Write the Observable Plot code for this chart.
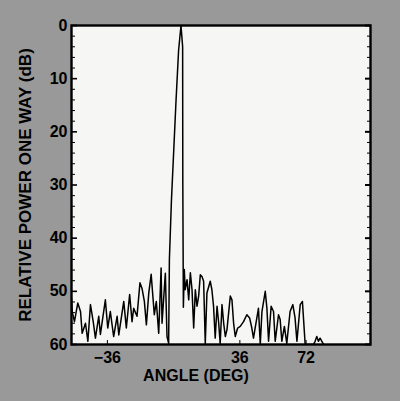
<!DOCTYPE html>
<html><head><meta charset="utf-8">
<script src="https://cdn.jsdelivr.net/npm/d3@7"></script>
<script src="https://cdn.jsdelivr.net/npm/@observablehq/plot@0.6"></script>
<style>
html,body{margin:0;padding:0;background:#999;}
#chart{width:400px;height:401px;}
</style></head><body><div id="chart"></div>
<script>
const angleDeg = [
  -55.5, -55.1, -53.9, -52.1, -50.6, -49.7, -47.9, -46.6, -45.2, -43.7,
  -42.5, -40.7, -39.8, -37.1, -35.8, -34.4, -32.6, -30.7, -29.8, -27.1,
  -25.7, -23.9, -22.6, -21.7, -19.9, -18.3, -17.2, -15.9, -14.8, -13.5,
  -12.2, -10.5, -9.4, -8.1, -6.8, -6.3, -4.5, -3.6, -2.7,
  -2.3, -1.2, 1.3, 2.7, 4.0, 4.9, 5.0, 5.3,
  5.8, 6.3, 7.3, 8.2, 9.1, 10.0, 10.9, 11.8, 12.7, 13.6,
  14.5, 15.4, 16.3, 17.2, 18.1, 19.9, 20.8, 21.7, 22.6, 23.6,
  24.5, 25.3, 26.3, 27.2, 28.1, 29.0, 30.8, 31.7, 32.6, 33.5,
  34.8, 36.2, 38.0, 39.8, 41.3, 42.5, 43.4, 44.3, 46.1, 47.1,
  48.0, 49.8, 50.7, 51.6, 53.0, 54.3, 55.2, 57.0, 57.9, 58.8,
  60.2, 61.5, 63.3, 64.8, 66.0, 67.0, 68.8, 70.0, 71.5, 76.0,
  76.9, 77.8, 78.7, 79.6, 81.5
];
const powerDb = [
  51.3, 53.8, 55.7, 52.2, 53.8, 57.9, 56.0, 59.4, 52.5, 55.7,
  58.8, 54.7, 58.1, 51.6, 56.9, 53.8, 58.5, 54.7, 58.2, 51.9,
  56.9, 50.6, 55.7, 53.2, 54.7, 48.4, 49.4, 51.9, 56.3, 50.3,
  46.8, 54.4, 51.9, 57.9, 45.6, 56.0, 46.6, 58.5, 59.8,
  44.0, 33.0, 14.2, 4.7, 0.0, 4.0, 30.0, 53.0,
  45.9, 49.7, 47.8, 51.6, 46.5, 49.7, 56.9, 49.7, 52.8, 50.9,
  46.9, 47.2, 48.1, 59.8, 50.3, 48.1, 49.7, 52.8, 58.8, 52.8,
  56.0, 59.8, 52.5, 56.0, 58.5, 57.2, 50.9, 51.6, 56.0, 58.5,
  56.9, 56.6, 55.7, 54.4, 55.0, 56.9, 58.8, 56.9, 53.2, 60.0,
  53.8, 50.0, 53.2, 59.4, 52.8, 53.8, 59.4, 54.4, 55.3, 59.4,
  56.6, 59.8, 53.8, 52.5, 55.0, 59.4, 52.5, 51.9, 60.0, 60.0,
  59.4, 58.5, 59.4, 58.8, 60.0
];
const yMajorTicks = [0, 10, 20, 30, 40, 50, 60];
const yMinorTicks = [2, 4, 6, 8, 12, 14, 16, 18, 22, 24, 26, 28, 32, 34, 36, 38, 42, 44, 46, 48, 52, 54, 56, 58];
const xTicks = [-36, 36, 72];
const xLabel = "ANGLE (DEG)";
const yLabel = "RELATIVE POWER ONE WAY (dB)";

const data = angleDeg.map((a, i) => ({angle: a, db: powerDb[i]}));
const blank = () => "";

const chart = Plot.plot({
  width: 400, height: 401,
  marginLeft: 71, marginRight: 30, marginTop: 25, marginBottom: 57,
  style: {background: "#999", fontFamily: "'Liberation Sans', Arial, sans-serif", fontWeight: "bold", fontSize: "16px", color: "black"},
  x: {domain: [-55.5, 107]},
  y: {domain: [0, 60], reverse: true},
  marks: [
    Plot.frame({fill: "#f6f6f4", stroke: null}),
    Plot.line(data, {x: "angle", y: "db", stroke: "black", strokeWidth: 1.5, clip: true}),
    Plot.frame({stroke: "black", strokeWidth: 2.4}),
    Plot.axisY(yMinorTicks, {anchor: "left", tickSize: -4, tickFormat: blank, label: null}),
    Plot.axisY(yMajorTicks, {anchor: "left", tickSize: -6, strokeWidth: 1.6, tickFormat: blank, label: null}),
    Plot.axisY(yMajorTicks, {anchor: "left", tickSize: 0, tickPadding: 4, fontSize: 16, label: null}),
    Plot.axisY(yMinorTicks, {anchor: "right", tickSize: -4, tickFormat: blank, label: null}),
    Plot.axisY(yMajorTicks, {anchor: "right", tickSize: -6, strokeWidth: 2, tickFormat: blank, label: null}),
    Plot.axisX(xTicks, {anchor: "bottom", tickSize: -4, tickFormat: blank, label: null}),
    Plot.axisX(xTicks, {anchor: "bottom", tickSize: 0, tickPadding: 7, fontSize: 16, label: null}),
    Plot.text([yLabel], {text: d => d, frameAnchor: "left", textAnchor: "middle", lineAnchor: "middle", dx: -46, rotate: -90, fontSize: 17, fontWeight: "bold"}),
    Plot.text([xLabel], {text: d => d, frameAnchor: "bottom", textAnchor: "middle", lineAnchor: "middle", dx: -25, dy: 31, fontSize: 16, fontWeight: "bold"})
  ]
});
document.getElementById("chart").appendChild(chart);
</script></body></html>
